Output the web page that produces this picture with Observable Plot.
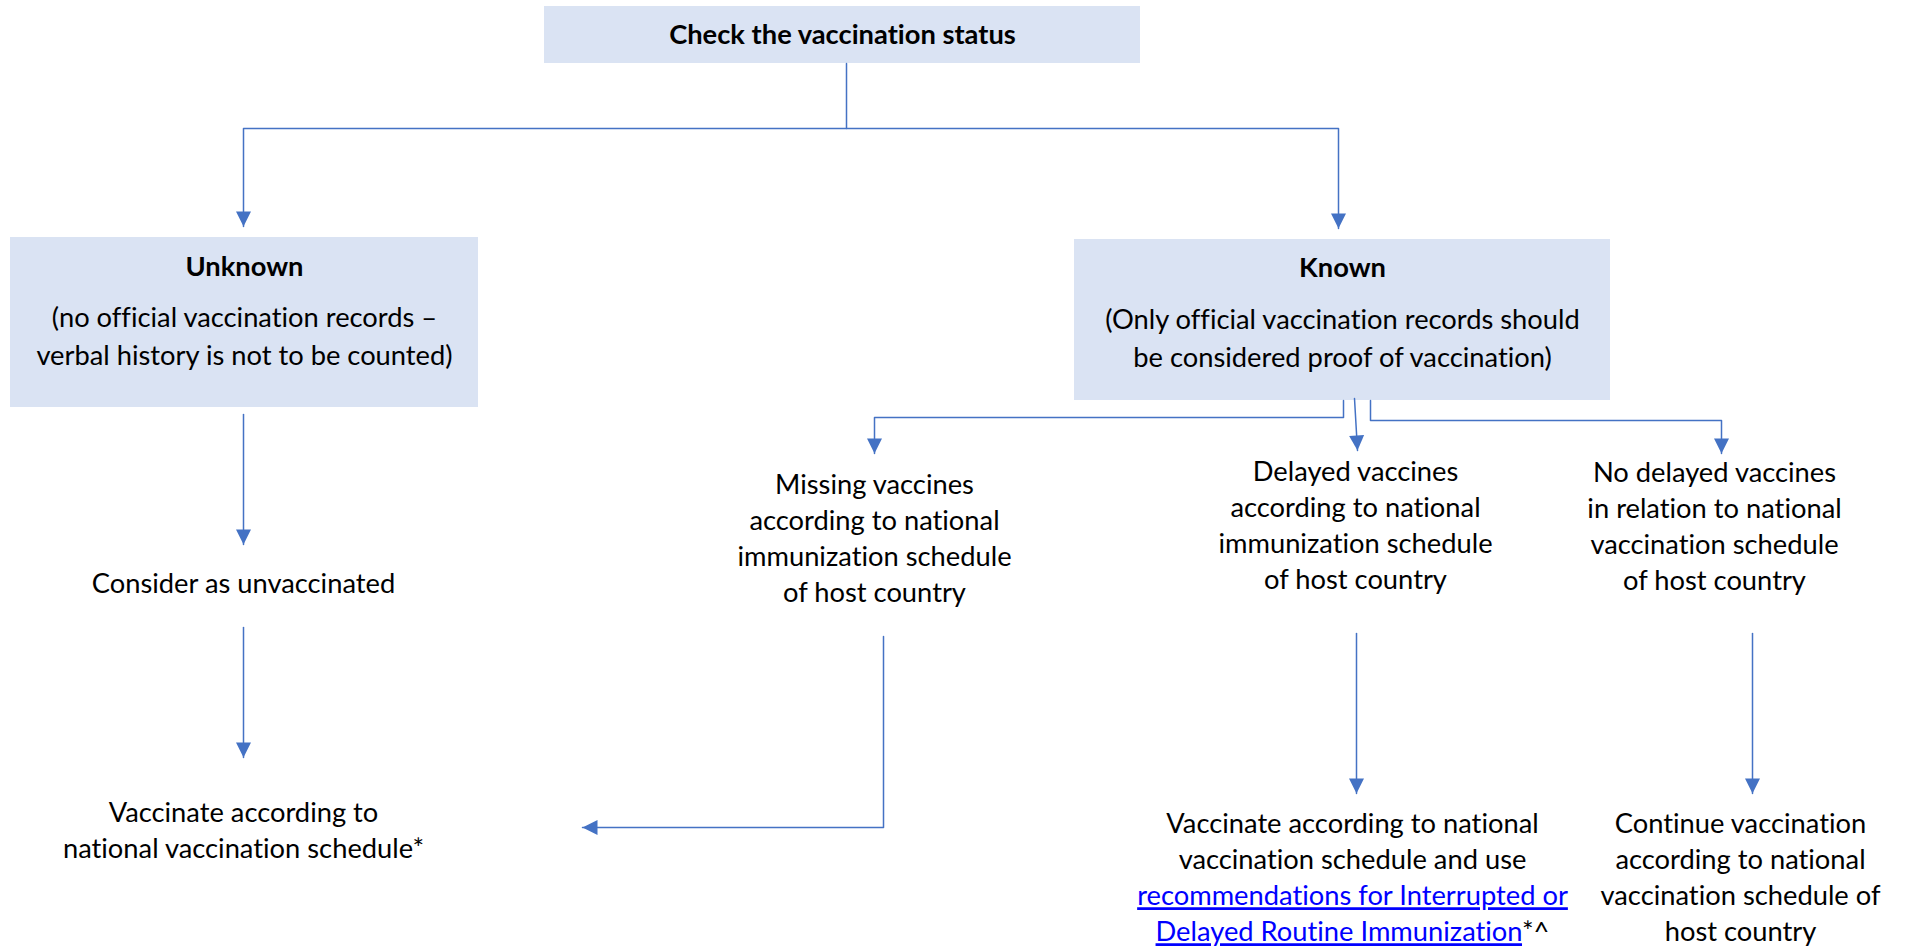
<!DOCTYPE html>
<html><head><meta charset="utf-8">
<script src="https://cdn.jsdelivr.net/npm/d3@7"></script>
<script src="https://cdn.jsdelivr.net/npm/@observablehq/plot@0.6"></script>
<style>
html,body{margin:0;padding:0;background:#fff;}
#chart svg{display:block}
#chart svg text{font-variant-ligatures:none;font-feature-settings:"liga" 0,"clig" 0;}
</style>
</head><body><div id="chart"></div>
<script>
// ---------- data ----------
const boxIds = ["check", "unknown", "known"];
const boxTitles = ["Check the vaccination status", "Unknown", "Known"];
const boxNotes = [
  [],
  ["(no official vaccination records –", "verbal history is not to be counted)"],
  ["(Only official vaccination records should", "be considered proof of vaccination)"]
];
const stepIds = ["unvacc", "missing", "delayed", "nodelay", "vaccUnknown", "vaccDelayed", "continue"];
const stepTexts = [
  ["Consider as unvaccinated"],
  ["Missing vaccines", "according to national", "immunization schedule", "of host country"],
  ["Delayed vaccines", "according to national", "immunization schedule", "of host country"],
  ["No delayed vaccines", "in relation to national", "vaccination schedule", "of host country"],
  ["Vaccinate according to", "national vaccination schedule*"],
  ["Vaccinate according to national", "vaccination schedule and use", "[recommendations for Interrupted or]", "[Delayed Routine Immunization]*^"],
  ["Continue vaccination", "according to national", "vaccination schedule of", "host country"]
];
const edges = [
  ["check", "unknown"], ["check", "known"],
  ["unknown", "unvacc"], ["unvacc", "vaccUnknown"],
  ["known", "missing"], ["known", "delayed"], ["known", "nodelay"],
  ["missing", "vaccUnknown"], ["delayed", "vaccDelayed"], ["nodelay", "continue"]
];

// ---------- layout (pixel space) ----------
const W = 1908, H = 946;
const FONT = "Lato, 'Open Sans', sans-serif";
const FS = 27.3, LH = 36, NOTE_LH = 38;
const boxGeom = {
  check:   {x1: 544, x2: 1140, y1: 6,   y2: 63,  ty: 35},
  unknown: {x1: 10,  x2: 478,  y1: 237, y2: 407, ty: 267, ny: 318},
  known:   {x1: 1074, x2: 1610, y1: 239, y2: 400, ty: 268, ny: 320}
};
const stepGeom = {
  unvacc: {x: 243, y: 584}, missing: {x: 874, y: 485}, delayed: {x: 1355, y: 472},
  nodelay: {x: 1714, y: 473}, vaccUnknown: {x: 243, y: 813},
  vaccDelayed: {x: 1352, y: 824}, continue: {x: 1740, y: 824}
};
const routes = {
  "check-unknown": [[846, 63], [846, 128], [243, 128], [243, 226]],
  "check-known": [[846, 128], [1338, 128], [1338, 228]],
  "unknown-unvacc": [[243, 414], [243, 544]],
  "unvacc-vaccUnknown": [[243, 627], [243, 757]],
  "known-missing": [[1343, 400], [1343, 417], [874, 417], [874, 453]],
  "known-delayed": [[1354, 398], [1357, 450]],
  "known-nodelay": [[1370, 400], [1370, 420], [1721, 420], [1721, 453]],
  "missing-vaccUnknown": [[883, 636], [883, 827], [582, 827]],
  "delayed-vaccDelayed": [[1356, 633], [1356, 793]],
  "nodelay-continue": [[1752, 633], [1752, 793]]
};

// ---------- derived tables ----------
const boxes = boxIds.map((id, i) => ({id, title: boxTitles[i], notes: boxNotes[i], ...boxGeom[id]}));
const noteRows = boxes.flatMap(b => b.notes.map((t, j) => ({text: t, x: (b.x1 + b.x2) / 2, y: b.ny + j * NOTE_LH})));
const stepRows = stepIds.flatMap((id, i) => stepTexts[i].map((t, j) => ({
  raw: t, text: t.replace(/[\[\]]/g, ""), link: t.includes("["), x: stepGeom[id].x, y: stepGeom[id].y + j * LH
})));
const linePts = edges.flatMap(([a, b]) => (routes[a + "-" + b] || []).map(([x, y]) => ({edge: a + "-" + b, x, y})));
const arrows = edges.map(([a, b]) => {
  const r = routes[a + "-" + b];
  const [px, py] = r[r.length - 2], [x, y] = r[r.length - 1];
  const ang = Math.atan2(y - py, x - px) * 180 / Math.PI - 90; // symbol points down
  return {x, y, angle: ang};
});
const arrowSymbol = {draw(ctx) { ctx.moveTo(0, 0); ctx.lineTo(-7.5, -15); ctx.lineTo(7.5, -15); ctx.closePath(); }};

const BLUE = "#4472C4";
const chart = Plot.plot({
  width: W, height: H, margin: 0,
  x: {domain: [0, W], range: [0, W], axis: null},
  y: {domain: [0, H], range: [0, H], axis: null},
  style: {fontFamily: FONT, background: "white", color: "black"},
  marks: [
    Plot.rect(boxes, {x1: "x1", x2: "x2", y1: "y1", y2: "y2", fill: "#DAE3F3"}),
    Plot.line(linePts, {x: "x", y: "y", z: "edge", stroke: BLUE, strokeWidth: 1.5, curve: "linear"}),
    Plot.dot(arrows, {x: "x", y: "y", rotate: "angle", symbol: arrowSymbol, fill: BLUE, stroke: "none", r: 8}),
    Plot.text(boxes, {x: d => (d.x1 + d.x2) / 2, y: "ty", text: "title", fontSize: FS, fontWeight: "bold", fill: "black"}),
    Plot.text(noteRows, {x: "x", y: "y", text: "text", fontSize: FS, fill: "black"}),
    Plot.text(stepRows.filter(d => !d.link), {x: "x", y: "y", text: "text", fontSize: FS, fill: "black"}),
    Plot.text(stepRows.filter(d => d.link), {x: "x", y: "y", text: "raw", fontSize: FS, fill: "#0000FF"})
  ]
});
document.getElementById("chart").appendChild(chart);

// style hyperlink lines: underlined blue part, trailing text black
d3.select(chart).selectAll("text").each(function() {
  const raw = this.textContent;
  const m = raw.match(/^\[(.*)\](.*)$/);
  if (!m) return;
  const sel = d3.select(this).text("");
  sel.append("tspan").style("text-decoration", "underline").text(m[1]);
  if (m[2]) sel.append("tspan").attr("fill", "black").text(m[2]);
});
</script>
</body></html>
